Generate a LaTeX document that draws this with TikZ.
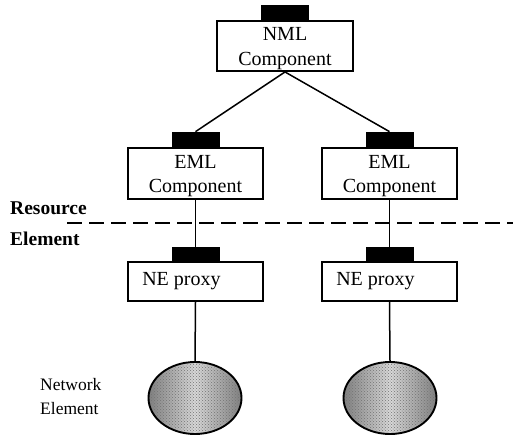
\documentclass[tikz,border=0pt]{standalone}
\usepackage{fontspec}
\setmainfont{Liberation Serif}
\usetikzlibrary{shapes.geometric,patterns}
\begin{document}
\begin{tikzpicture}[x=1pt,y=-1pt,
  box/.style={draw,line width=1.9pt,fill=white,inner sep=0pt},
  boxtext/.style={inner sep=0pt,font=\fontsize{20}{24.5}\selectfont,align=center},
  tab/.style={fill=black,inner sep=0pt,minimum width=48pt,minimum height=15pt},
  link/.style={line width=1.5pt},
  layer/.style={font=\fontsize{19.5}{20}\selectfont\bfseries,anchor=base west,inner sep=0pt},
  ne/.style={ellipse,draw,line width=1.9pt,minimum width=93pt,minimum height=72pt,
    inner sep=0pt,left color=black!50,right color=black!50,middle color=black!15},
  ]
\useasboundingbox (0,0) rectangle (513,444);

% network management layer
\node[box,minimum width=136pt,minimum height=50pt] (nml) at (285,46) {};
\node[tab,anchor=south] (nmlt) at (nml.north) {};
\node[boxtext] (nmlx) at ([yshift=-2.5pt]nml.center) {NML\\Component};

% element management layer
\node[box,minimum width=135pt,minimum height=51pt] (emlA) at (195.5,173.5) {};
\node[tab,anchor=south] (emlAt) at (emlA.north) {};
\node[boxtext] (emlAx) at ([yshift=-2.5pt]emlA.center) {EML\\Component};
\node[box,minimum width=135pt,minimum height=51pt] (emlB) at (389.5,173.5) {};
\node[tab,anchor=south] (emlBt) at (emlB.north) {};
\node[boxtext] (emlBx) at ([yshift=-2.5pt]emlB.center) {EML\\Component};

% proxies, text set towards the left edge
\node[box,minimum width=135pt,minimum height=39pt] (pxA) at (195.5,281.5) {};
\node[tab,anchor=south,minimum height=14pt] (pxAt) at (pxA.north) {};
\node[boxtext,anchor=west] (pxAx) at ([xshift=15pt]pxA.west) {NE proxy};
\node[box,minimum width=135pt,minimum height=39pt] (pxB) at (389.5,281.5) {};
\node[tab,anchor=south,minimum height=14pt] (pxBt) at (pxB.north) {};
\node[boxtext,anchor=west] (pxBx) at ([xshift=15pt]pxB.west) {NE proxy};

% network elements
\node[ne] (neA) at (195,398) {};
\node[ne] (neB) at (390,398) {};
\foreach \n in {neA,neB}
  \fill[pattern=crosshatch dots,pattern color=black!55] (\n.center) ellipse (44pt and 34pt);

% connectors
\draw[link] (nml.south) -- (emlAt.north);
\draw[link] (nml.south) -- (emlBt.north);
\draw[link] (emlA.south) -- (pxAt.north);
\draw[link] (emlB.south) -- (pxBt.north);
\draw[link] (pxA.south) -- (neA.north);
\draw[link] (pxB.south) -- (neB.north);

% layer boundary
\coordinate (bl) at (67,223);
\coordinate (br) at (513,223);
\draw[line width=1.6pt,dash pattern=on 15pt off 7pt] (bl) -- (br);
\node[layer] (res) at (10,214) {Resource};
\node[layer] (ele) at (10,245) {Element};

% label of the element row
\node[font=\fontsize{17.5}{24}\selectfont,align=left,anchor=west,inner sep=0pt] (nel) at (40,397) {Network\\Element};
\end{tikzpicture}
\end{document}
